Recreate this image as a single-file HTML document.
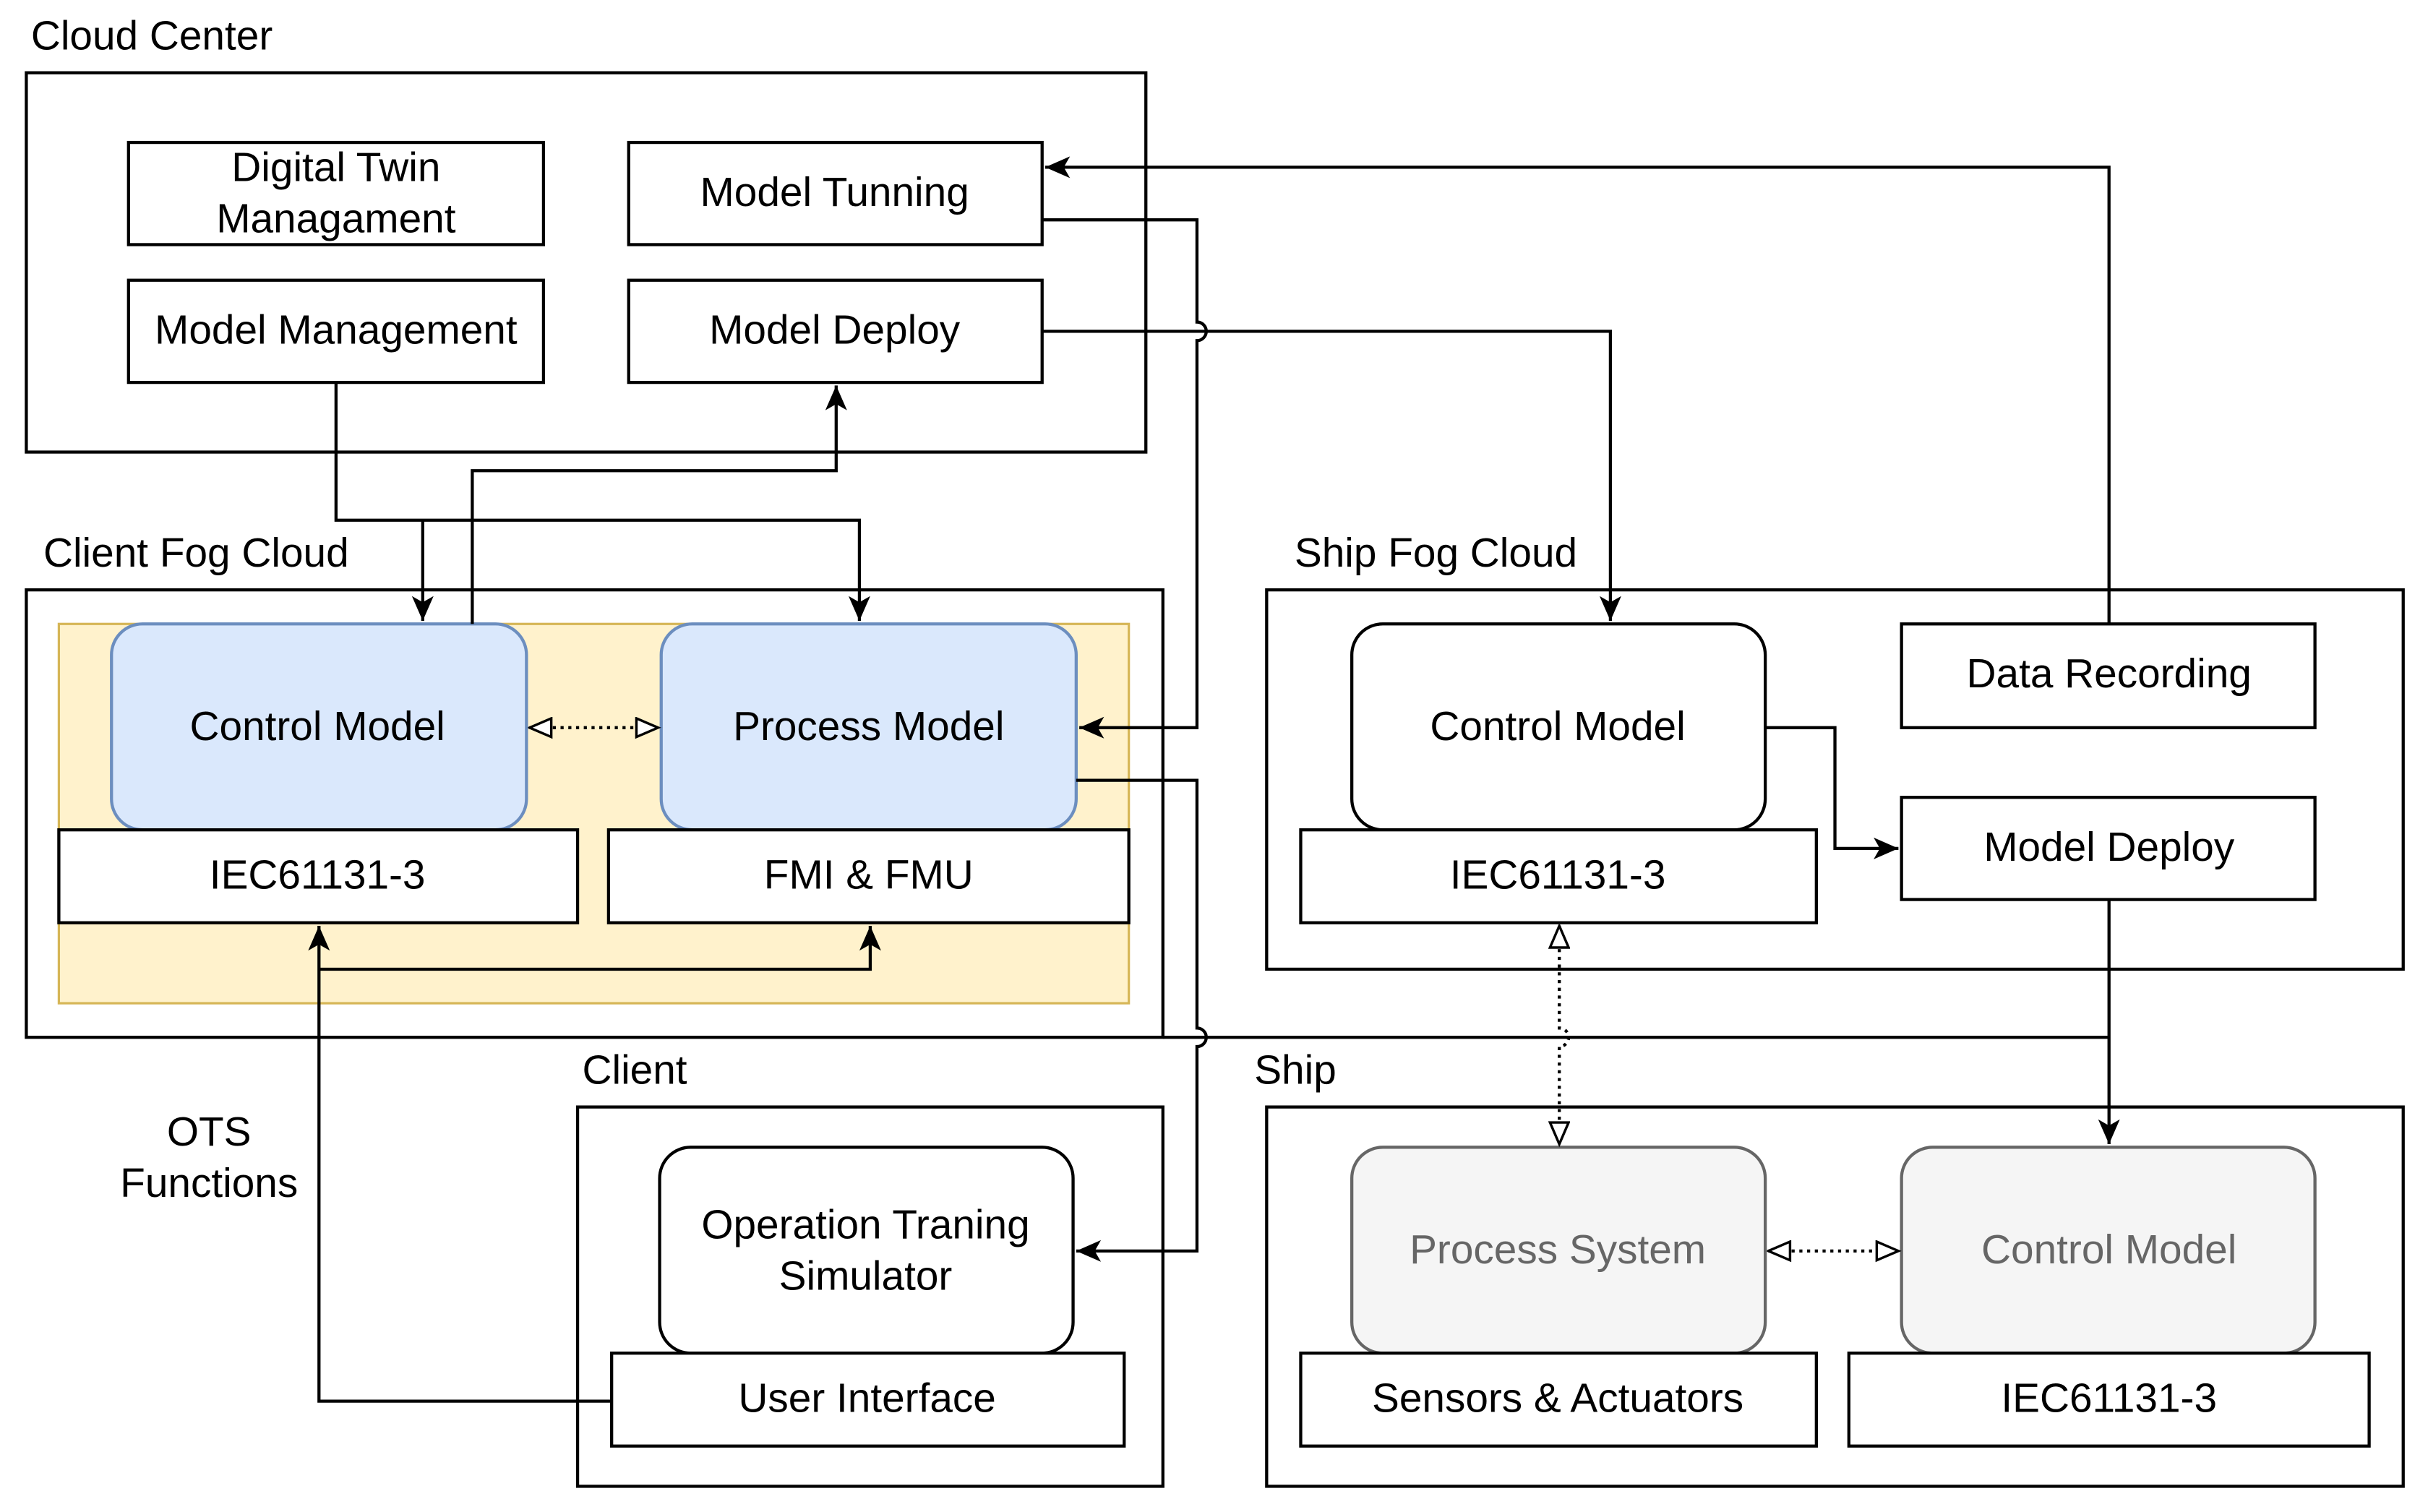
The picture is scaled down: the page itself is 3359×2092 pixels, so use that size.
<!DOCTYPE html>
<html><head><meta charset="utf-8"><style>
html,body{margin:0;padding:0;background:#fff;}
svg{display:block;}
text{font-family:"Liberation Sans",sans-serif;font-size:26.5px;fill:#000;}
</style></head><body>
<svg width="3359" height="2092" viewBox="0 0 1568 976.6" preserveAspectRatio="none" xmlns="http://www.w3.org/2000/svg">
<defs>
<marker id="a" markerUnits="userSpaceOnUse" markerWidth="20" markerHeight="20" refX="16" refY="8" orient="auto"><path d="M0,1 L16,8 L0,15 L4,8 Z" fill="#000"/></marker>
<marker id="o" markerUnits="userSpaceOnUse" markerWidth="20" markerHeight="20" refX="15" refY="7" orient="auto"><path d="M1,1 L15,7 L1,13 Z" fill="#fff" stroke="#000" stroke-width="1.6"/></marker>
<marker id="os" markerUnits="userSpaceOnUse" markerWidth="20" markerHeight="20" refX="1" refY="7" orient="auto"><path d="M15,1 L1,7 L15,13 Z" fill="#fff" stroke="#000" stroke-width="1.6"/></marker>
</defs>
<g fill="none" stroke="#000" stroke-width="2">
<rect x="17" y="47" width="723" height="245"/>
<rect x="83" y="92" width="268" height="66"/>
<rect x="406" y="92" width="267" height="66"/>
<rect x="83" y="181" width="268" height="66"/>
<rect x="406" y="181" width="267" height="66"/>
<rect x="17" y="381" width="734" height="289"/>
<rect x="38" y="403" width="691" height="245" fill="#fff2cc" stroke="#d6b656" stroke-width="1.5"/>
<rect x="72" y="403" width="268" height="133" rx="20" fill="#dae8fc" stroke="#6c8ebf"/>
<rect x="427" y="403" width="268" height="133" rx="20" fill="#dae8fc" stroke="#6c8ebf"/>
<rect x="38" y="536" width="335" height="60" fill="#fff"/>
<rect x="393" y="536" width="336" height="60" fill="#fff"/>
<rect x="818" y="381" width="734" height="245"/>
<rect x="873" y="403" width="267" height="133" rx="20" fill="#fff"/>
<rect x="840" y="536" width="333" height="60" fill="#fff"/>
<rect x="1228" y="403" width="267" height="67"/>
<rect x="1228" y="515" width="267" height="66"/>
<rect x="373" y="715" width="378" height="245"/>
<rect x="426" y="741" width="267" height="133" rx="20" fill="#fff"/>
<rect x="395" y="874" width="331" height="60" fill="#fff"/>
<rect x="818" y="715" width="734" height="245"/>
<rect x="873" y="741" width="267" height="133" rx="20" fill="#f5f5f5" stroke="#666"/>
<rect x="1228" y="741" width="267" height="133" rx="20" fill="#f5f5f5" stroke="#666"/>
<rect x="840" y="874" width="333" height="60" fill="#fff"/>
<rect x="1194" y="874" width="336" height="60" fill="#fff"/>
</g>
<g fill="none" stroke="#000" stroke-width="2">
<path d="M1362,403 V108 H675" marker-end="url(#a)"/>
<path d="M673,142 H773 V208 A6,6 0 0 1 773,220 V470 H697" marker-end="url(#a)"/>
<path d="M673,214 H1040 V401" marker-end="url(#a)"/>
<path d="M217,247 V336 H555 V401" marker-end="url(#a)"/>
<path d="M273,336 V401" marker-end="url(#a)"/>
<path d="M305,403 V304 H540 V249" marker-end="url(#a)"/>
<path d="M695,504 H773 V664 A6,6 0 0 1 773,676 V808 H695" marker-end="url(#a)"/>
<path d="M751,670 H1362"/>
<path d="M1362,581 V739" marker-end="url(#a)"/>
<path d="M1140,470 H1185 V548 H1226" marker-end="url(#a)"/>
<path d="M395,905 H206 V598" marker-end="url(#a)"/>
<path d="M206,626 H562 V598" marker-end="url(#a)"/>
</g>
<g fill="none" stroke="#000" stroke-width="2" stroke-dasharray="2,3">
<path d="M342,470 H425" marker-start="url(#os)" marker-end="url(#o)"/>
<path d="M1007,598 V664 A6,6 0 0 1 1007,676 V739" marker-start="url(#os)" marker-end="url(#o)"/>
<path d="M1142,808 H1226" marker-start="url(#os)" marker-end="url(#o)"/>
</g>
<text x="20" y="32">Cloud Center</text>
<text x="28" y="366">Client Fog Cloud</text>
<text x="836" y="366">Ship Fog Cloud</text>
<text x="376" y="700">Client</text>
<text x="810" y="700">Ship</text>
<g text-anchor="middle">
<text x="217" y="117">Digital Twin</text>
<text x="217" y="150">Managament</text>
<text x="539" y="133">Model Tunning</text>
<text x="217" y="222">Model Management</text>
<text x="539" y="222">Model Deploy</text>
<text x="205" y="478">Control Model</text>
<text x="561" y="478">Process Model</text>
<text x="205" y="574">IEC61131-3</text>
<text x="561" y="574">FMI &amp; FMU</text>
<text x="1006" y="478">Control Model</text>
<text x="1006" y="574">IEC61131-3</text>
<text x="1362" y="444">Data Recording</text>
<text x="1362" y="556">Model Deploy</text>
<text x="559" y="800">Operation Traning</text>
<text x="559" y="833">Simulator</text>
<text x="560" y="912">User Interface</text>
<text x="1006" y="816" style="fill:#666">Process System</text>
<text x="1362" y="816" style="fill:#666">Control Model</text>
<text x="1006" y="912">Sensors &amp; Actuators</text>
<text x="1362" y="912">IEC61131-3</text>
<text x="135" y="740">OTS</text>
<text x="135" y="773">Functions</text>
</g>
</svg>
</body></html>
